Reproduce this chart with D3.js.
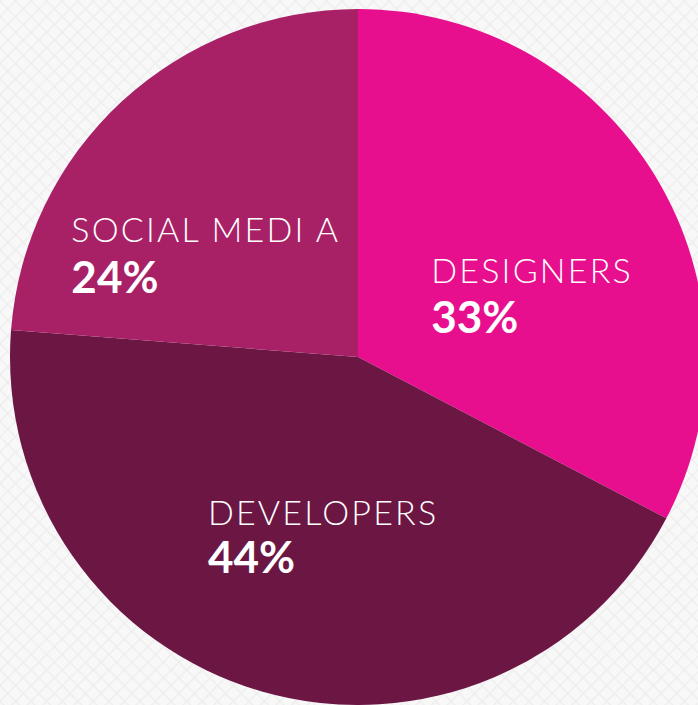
<!DOCTYPE html>
<html><head><meta charset="utf-8">
<script src="https://cdn.jsdelivr.net/npm/d3@7"></script>
<style>html,body{margin:0;padding:0;background:#f6f6f6;overflow:hidden}</style>
</head><body>
<svg id="c" width="698" height="705"></svg>
<script>
const categories = ["DESIGNERS", "DEVELOPERS", "SOCIAL MEDI A"];
const values = [33, 44, 24];
const valueLabels = ["33%", "44%", "24%"];
const colors = ["#E80F8F", "#6C1644", "#A82167"];

const W = 698, H = 705;
const cx = 358, cy = 357, R = 348;
const svg = d3.select("#c");

// background diamond pattern
const defs = svg.append("defs");
const pat = defs.append("pattern").attr("id","bg").attr("patternUnits","userSpaceOnUse")
  .attr("width",11).attr("height",11).attr("patternTransform","rotate(45)");
pat.append("rect").attr("width",11).attr("height",11).attr("fill","#f8f8f8");
pat.append("rect").attr("width",11).attr("height",1.5).attr("fill","#eeeeee");
pat.append("rect").attr("width",1.5).attr("height",11).attr("fill","#eeeeee");
svg.append("rect").attr("width",W).attr("height",H).attr("fill","url(#bg)");

const data = categories.map((c,i)=>({cat:c, value:values[i], label:valueLabels[i], color:colors[i]}));
const pie = d3.pie().value(d=>d.value).sort(null);
const arc = d3.arc().innerRadius(0).outerRadius(R);
const labelArc = d3.arc().innerRadius(185).outerRadius(185);
const arcs = pie(data);

const g = svg.append("g").attr("transform",`translate(${cx},${cy})`);
g.selectAll("path").data(arcs).join("path").attr("d",arc).attr("fill",d=>d.data.color);

const nudges = [[-85,22],[-99,-10],[-161,21]];
const gaps = [50, 48, 51];
arcs.forEach((a,i)=>{
  const [x,y] = labelArc.centroid(a);
  const lg = g.append("g").attr("transform",`translate(${x+nudges[i][0]},${y+nudges[i][1]})`);
  lg.append("text").text(a.data.cat).attr("fill","#fff")
    .attr("font-family","Lato, 'Open Sans', sans-serif").attr("font-weight",300)
    .attr("font-size",34).attr("letter-spacing",2.2);
  lg.append("text").text(a.data.label).attr("y",gaps[i]).attr("fill","#fff")
    .attr("font-family","Lato, 'Open Sans', sans-serif").attr("font-weight",700)
    .attr("font-size",44);
});
</script>
</body></html>
